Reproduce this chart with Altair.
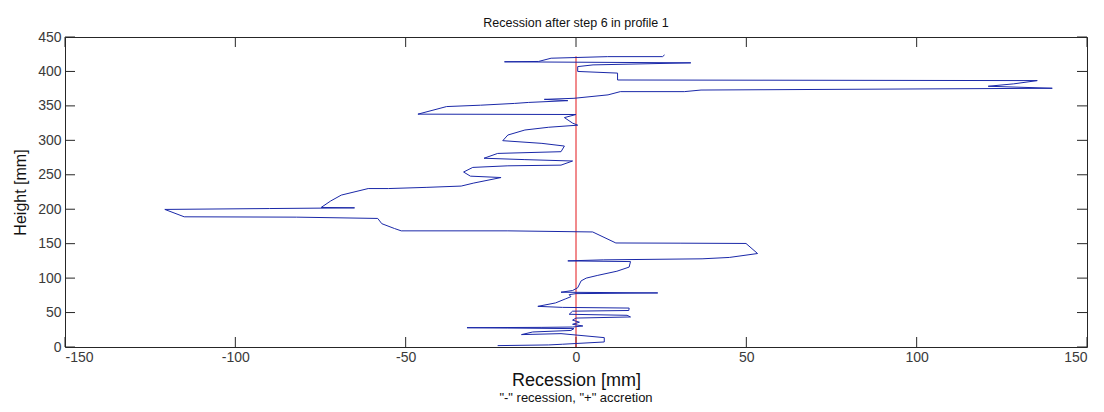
import altair as alt
import pandas as pd

# Profile 1 after step 6: height [mm] and recession [mm] along the traced outline
heights = [
    2, 3, 4, 7.3, 13.6, 19.4, 18, 21.8, 24, 26.7,
    27.5, 28, 28.5, 29, 30.5, 33, 36, 39, 42, 43.6,
    46, 47.5, 52, 53, 56.5, 57.5, 59, 64, 70, 73,
    76, 77.5, 78.5, 79.5, 82, 86, 96, 100, 104, 110,
    116, 124, 125, 126.5, 128, 130, 135.7, 150.3, 150.7, 151,
    167, 168.6, 168.6, 172, 179, 186.6, 188.5, 189, 199.7, 201,
    202, 202.6, 212, 220.5, 230, 230, 231.7, 233.6, 238, 246,
    248, 254, 260.7, 263, 264, 270, 272, 274, 281, 283.5,
    291.7, 295.6, 299.5, 307.7, 315, 319, 322, 325, 333, 337.5,
    338, 349, 351, 353.6, 355, 357.6, 359.5, 361, 366, 370.7,
    370.7, 373, 375.6, 378.5, 382, 386.7, 387.6, 397.6, 400, 407,
    409.5, 412.5, 414, 414.5, 419.2, 421.5, 421.5, 424,
]
recession = [
    -23, -8, -4, 8.3, 8.3, -4.4, -16, -12.7, -1.5, -0.6,
    -20, -32, -10, -1, 2, -1, 1, -1, 0, 16,
    15, -2, -1, 15.5, 15.6, -4, -11.2, -6, -3, -1.5,
    -2, 0, 24, -4.4, -1, 0.5, 1.5, 3, 6.4, 12,
    15.6, 16, -2.4, 8, 37, 45, 53.3, 49.9, 30.8, 11.7,
    4.9, -20, -51.3, -53.3, -57, -58.2, -82, -115, -120.7, -90,
    -65, -74.8, -72, -68.9, -61, -55, -44, -33.7, -30, -22,
    -31, -33, -30.3, -20, -4.4, -1, -15, -27, -23, -4.4,
    -3.4, -10, -21.5, -20, -15, -8, 0.5, -1, -3.4, 0,
    -46.4, -38, -28, -18, -14, -2.4, -9.3, -0.6, 9.4, 13,
    31.8, 36.7, 139.8, 121, 128.5, 135.4, 12.2, 12.2, 0.5, 0.5,
    5, 33.7, -21, -11, -7.3, 9.3, 25.4, 26,
]

# Zero-recession reference line
ref_heights = [0, 422]
ref_recession = [0, 0]

x_ticks = [-150, -100, -50, 0, 50, 100, 150]
y_ticks = [0, 50, 100, 150, 200, 250, 300, 350, 400, 450]

W, H = 1022, 310
TICK = 10
FONT = "Liberation Sans"
INK = "#262626"
LABEL = "#3a3a3a"

profile = pd.DataFrame({"idx": list(range(len(heights))), "height": heights, "recession": recession})
ref = pd.DataFrame({"height": ref_heights, "recession": ref_recession})
xt = pd.DataFrame({"recession": x_ticks})
yt = pd.DataFrame({"height": y_ticks})

xscale = alt.Scale(domain=[-150, 150], nice=False, zero=False)
yscale = alt.Scale(domain=[0, 450], nice=False, zero=False)

x_axis = alt.Axis(
    values=x_ticks, grid=False, ticks=False, domain=False,
    labelExpr="'' + datum.value",
    labelFont=FONT, labelFontSize=14, labelColor=LABEL, labelPadding=3,
    title="Recession [mm]", titleFont=FONT, titleFontSize=18,
    titleFontWeight="normal", titleColor="#111", titlePadding=7,
)
y_axis = alt.Axis(
    values=y_ticks, grid=False, ticks=False, domain=False,
    labelExpr="'' + datum.value",
    labelFont=FONT, labelFontSize=14, labelColor=LABEL, labelPadding=4,
    title="Height [mm]", titleFont=FONT, titleFontSize=16,
    titleFontWeight="normal", titleColor="#111", titlePadding=9,
)

X = alt.X("recession:Q", scale=xscale, axis=x_axis)
Y = alt.Y("height:Q", scale=yscale, axis=y_axis)

line = alt.Chart(profile).mark_line(color="#1a28a8", strokeWidth=1).encode(
    x=X, y=Y, order="idx:Q"
)
ref_line = alt.Chart(ref).mark_line(color="#e3161b", strokeWidth=1).encode(x=X, y=Y)

# Inward tick marks on all four sides of the box
tick_style = dict(color=INK, strokeWidth=1)
bottom_ticks = alt.Chart(xt).mark_rule(**tick_style).encode(
    x=X, y=alt.value(H), y2=alt.value(H - TICK)
)
top_ticks = alt.Chart(xt).mark_rule(**tick_style).encode(
    x=X, y=alt.value(0), y2=alt.value(TICK)
)
left_ticks = alt.Chart(yt).mark_rule(**tick_style).encode(
    y=Y, x=alt.value(0), x2=alt.value(TICK)
)
right_ticks = alt.Chart(yt).mark_rule(**tick_style).encode(
    y=Y, x=alt.value(W), x2=alt.value(W - TICK)
)

subtitle = alt.Chart(pd.DataFrame({"t": ['"-" recession, "+" accretion']})).mark_text(
    font=FONT, fontSize=13, color="#111", baseline="middle", align="center"
).encode(x=alt.value(W / 2), y=alt.value(H + 51), text="t:N")

chart = (
    alt.layer(bottom_ticks, top_ticks, left_ticks, right_ticks, ref_line, line, subtitle)
    .properties(
        width=W,
        height=H,
        title=alt.TitleParams(
            "Recession after step 6 in profile 1",
            font=FONT, fontSize=12.5, fontWeight="normal", color="#111",
            frame="group", anchor="middle", offset=1,
        ),
        padding={"left": 65, "top": 37, "right": 17, "bottom": 65},
        autosize=alt.AutoSizeParams(type="none"),
        background="white",
    )
    .configure_view(stroke=INK, strokeWidth=1)
)

chart.save("out.html", embed_options={"renderer": "svg", "actions": False})
